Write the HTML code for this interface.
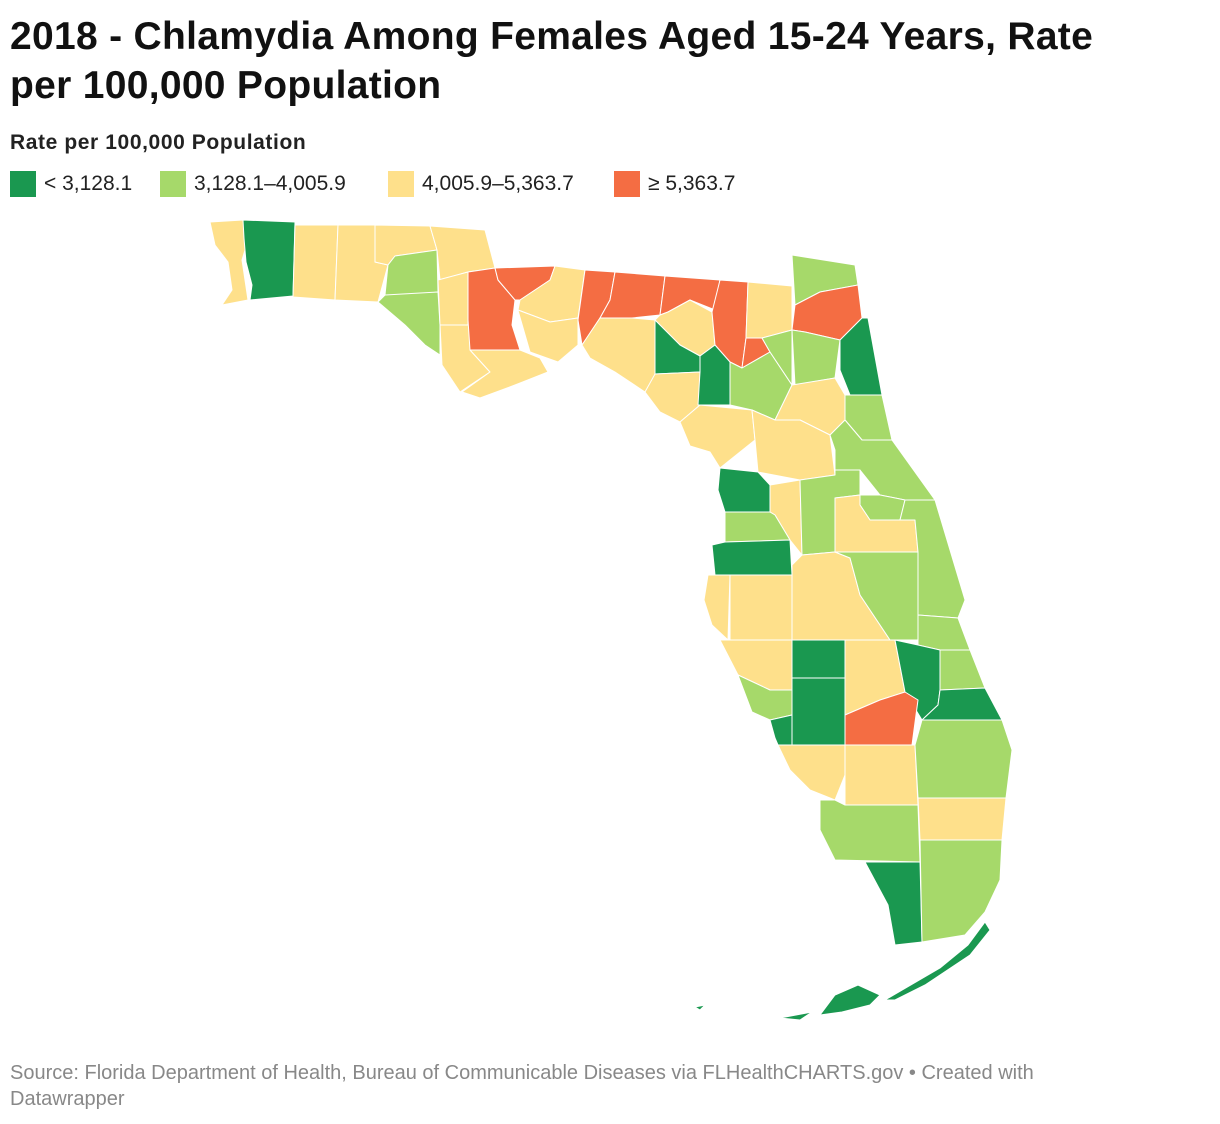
<!DOCTYPE html>
<html><head><meta charset="utf-8"><style>
body{margin:0;background:#fff;font-family:"Liberation Sans",sans-serif;width:1220px;height:1124px;overflow:hidden;position:relative}
h1{position:absolute;left:10px;top:12px;margin:0;font-size:39px;line-height:49px;font-weight:bold;color:#111;width:1140px;letter-spacing:0.3px}
.sub{position:absolute;left:10px;top:131px;font-size:21px;font-weight:bold;color:#222;letter-spacing:0.6px}
.leg{position:absolute;top:171px;font-size:21px;color:#222;display:flex;align-items:center}
.sw{width:26px;height:26px;margin-right:8px;display:inline-block}
.foot{position:absolute;left:10px;top:1060px;font-size:20px;line-height:26px;color:#888;width:1120px}
</style></head><body>
<h1>2018 - Chlamydia Among Females Aged 15-24 Years, Rate per 100,000 Population</h1>
<div class="sub">Rate per 100,000 Population</div>
<div class="leg" style="left:10px"><span class="sw" style="background:#1a9850"></span>&lt; 3,128.1</div>
<div class="leg" style="left:160px"><span class="sw" style="background:#a6d96a"></span>3,128.1–4,005.9</div>
<div class="leg" style="left:388px"><span class="sw" style="background:#fee08b"></span>4,005.9–5,363.7</div>
<div class="leg" style="left:614px"><span class="sw" style="background:#f46d43"></span>≥ 5,363.7</div>
<svg id="map" width="1220" height="1124" style="position:absolute;left:0;top:0"></svg>
<div class="foot">Source: Florida Department of Health, Bureau of Communicable Diseases via FLHealthCHARTS.gov • Created with Datawrapper</div>
<script>
const thresholds=[3128.1,4005.9,5363.7];
const colors=["#1a9850","#a6d96a","#fee08b","#f46d43"];
const counties=["Escambia","Santa Rosa","Okaloosa","Walton","Holmes","Washington","Jackson","Bay","Calhoun","Gulf","Liberty","Gadsden","Franklin","Leon","Wakulla","Jefferson","Madison","Taylor","Hamilton","Suwannee","Lafayette","Dixie","Columbia","Baker","Union","Gilchrist","Alachua","Bradford","Nassau","Duval","Clay","St. Johns","Putnam","Flagler","Levy","Marion","Volusia","Citrus","Sumter","Lake","Seminole","Hernando","Pasco","Orange","Brevard","Pinellas","Hillsborough","Polk","Osceola","Indian River","Manatee","Hardee","Highlands","Okeechobee","St. Lucie","Sarasota","DeSoto","Charlotte","Glades","Martin","Lee","Hendry","Palm Beach","Collier","Broward","Monroe","Miami-Dade","Monroe Keys"];
const rates=[4600,2700,4300,4200,4500,3600,4700,3700,4400,4300,5600,6200,4500,4800,4400,5900,5800,4500,5700,4600,2800,4400,5500,4700,6000,2600,3800,3700,3500,5500,3600,2900,4900,3700,4500,4600,3800,2900,4300,3700,3900,3500,3000,4900,3600,4500,4800,4700,3800,3700,4600,2800,4600,2700,3900,3700,2600,2900,5700,2900,4400,4600,3800,3800,4700,2800,3800,2800];
const shapes={
"Escambia":"M210,222 L243,220 L248,240 L242,260 L248,300 L222,305 L232,290 L228,262 L215,245Z",
"Santa Rosa":"M243,220 L295,222 L293,296 L250,300 L252,285 L246,262 L244,238Z",
"Okaloosa":"M295,225 L338,225 L335,300 L293,297Z",
"Walton":"M338,225 L375,225 L375,262 L388,265 L378,302 L335,300Z",
"Holmes":"M375,225 L430,226 L437,250 L395,256 L388,265 L375,262Z",
"Washington":"M395,256 L437,250 L438,292 L415,295 L385,295 L388,265Z",
"Jackson":"M430,226 L485,230 L495,268 L468,272 L440,280 L437,250Z",
"Bay":"M378,302 L385,295 L438,292 L440,325 L440,355 L425,345 L405,325Z",
"Calhoun":"M438,280 L468,272 L468,325 L440,325Z",
"Gulf":"M440,325 L470,325 L470,350 L490,372 L460,392 L442,365Z",
"Liberty":"M468,272 L495,268 L498,280 L515,300 L512,325 L520,350 L470,350 L468,320Z",
"Gadsden":"M495,268 L555,266 L550,280 L520,300 L515,300 L498,280Z",
"Franklin":"M470,350 L520,350 L540,358 L548,372 L515,385 L480,398 L462,392 L490,372Z",
"Leon":"M520,300 L550,280 L555,266 L585,270 L578,318 L550,322 L518,310Z",
"Wakulla":"M518,310 L550,322 L578,318 L578,345 L558,362 L530,352 L515,300Z",
"Jefferson":"M585,270 L615,272 L610,300 L600,318 L582,345 L578,320Z",
"Madison":"M615,272 L665,276 L660,315 L632,318 L600,318 L610,300Z",
"Taylor":"M582,345 L600,318 L632,318 L655,320 L655,375 L645,392 L615,372 L590,358Z",
"Hamilton":"M665,276 L720,280 L715,310 L690,300 L668,312 L660,315Z",
"Suwannee":"M660,315 L668,312 L690,300 L712,312 L715,345 L700,356 L680,345 L655,320Z",
"Lafayette":"M655,320 L680,345 L700,356 L700,372 L655,374Z",
"Dixie":"M645,392 L655,374 L700,372 L700,405 L680,422 L660,412Z",
"Columbia":"M720,280 L748,282 L746,338 L742,368 L730,362 L715,345 L712,312Z",
"Baker":"M748,282 L792,286 L792,330 L762,338 L746,338Z",
"Union":"M746,338 L762,338 L770,352 L742,368Z",
"Gilchrist":"M700,356 L715,345 L730,362 L730,405 L698,405 L700,372Z",
"Alachua":"M730,362 L742,368 L770,352 L792,385 L775,420 L752,410 L730,405Z",
"Bradford":"M762,338 L792,330 L792,385 L770,352Z",
"Nassau":"M792,255 L855,265 L858,285 L820,292 L795,305Z",
"Duval":"M795,305 L820,292 L858,285 L862,318 L840,340 L805,332 L792,330Z",
"Clay":"M792,330 L805,332 L840,340 L835,378 L795,385Z",
"St. Johns":"M840,340 L862,318 L868,318 L882,395 L850,395 L840,370Z",
"Putnam":"M792,385 L835,378 L845,395 L845,420 L830,435 L800,420 L775,420Z",
"Flagler":"M850,395 L882,395 L892,440 L862,440 L845,420 L845,395Z",
"Levy":"M680,422 L700,405 L752,410 L755,440 L720,468 L710,452 L690,446Z",
"Marion":"M752,410 L775,420 L800,420 L830,435 L835,475 L800,480 L758,472 L755,440Z",
"Volusia":"M845,420 L862,440 L892,440 L935,500 L905,500 L880,495 L860,470 L835,470 L835,450 L830,435Z",
"Citrus":"M720,468 L758,472 L770,485 L770,512 L725,512 L718,490Z",
"Sumter":"M770,485 L800,480 L802,555 L790,540 L775,515 L770,512Z",
"Lake":"M800,480 L835,475 L835,470 L860,470 L860,495 L835,498 L835,552 L802,555Z",
"Seminole":"M860,495 L880,495 L905,500 L900,520 L870,520 L860,505Z",
"Hernando":"M725,512 L770,512 L775,515 L790,540 L725,542Z",
"Pasco":"M712,545 L725,542 L790,540 L792,575 L715,575Z",
"Orange":"M835,498 L860,495 L860,505 L870,520 L900,520 L915,520 L918,552 L835,552Z",
"Brevard":"M905,500 L935,500 L965,600 L958,618 L918,615 L918,552 L915,520 L900,520Z",
"Pinellas":"M708,575 L730,575 L728,640 L712,625 L704,600Z",
"Hillsborough":"M730,575 L792,575 L792,640 L730,640Z",
"Polk":"M792,575 L792,565 L802,555 L835,552 L850,558 L860,595 L890,640 L792,640Z",
"Osceola":"M835,552 L918,552 L918,640 L890,640 L860,595 L850,558Z",
"Indian River":"M918,615 L958,618 L970,650 L940,650 L918,645Z",
"Manatee":"M720,640 L792,640 L792,690 L770,690 L738,675Z",
"Hardee":"M792,640 L845,640 L845,678 L792,678Z",
"Highlands":"M845,640 L895,640 L905,692 L880,700 L845,715Z",
"Okeechobee":"M895,640 L918,645 L940,650 L940,690 L938,705 L922,720 L905,692Z",
"St. Lucie":"M940,650 L970,650 L985,688 L940,690Z",
"Sarasota":"M738,675 L770,690 L792,690 L792,715 L770,720 L752,712Z",
"DeSoto":"M792,678 L845,678 L845,745 L792,745 L792,715Z",
"Charlotte":"M770,720 L792,715 L792,745 L778,745 L775,738Z",
"Glades":"M845,715 L880,700 L905,692 L918,700 L912,745 L845,745Z",
"Martin":"M922,720 L938,705 L940,690 L985,688 L1002,720Z",
"Lee":"M778,745 L845,745 L845,775 L835,800 L810,790 L790,770Z",
"Hendry":"M845,745 L915,745 L918,805 L845,805 L845,775Z",
"Palm Beach":"M915,745 L922,720 L1002,720 L1012,750 L1006,798 L918,798Z",
"Collier":"M820,800 L835,800 L845,805 L918,805 L920,862 L835,860 L820,830Z",
"Broward":"M918,798 L1006,798 L1002,840 L920,840Z",
"Monroe":"M865,862 L920,862 L922,942 L895,945 L888,905Z",
"Miami-Dade":"M920,840 L1002,840 L1000,880 L985,912 L965,935 L922,942Z",
"Monroe Keys":"M820,1015 L835,995 L858,985 L880,995 L870,1005 L842,1012Z M885,1000 L940,968 L968,945 L985,922 L990,930 L970,955 L925,985 L895,1000Z M780,1018 L812,1012 L800,1020Z M695,1007 L705,1005 L700,1010Z"
};
const NS="http://www.w3.org/2000/svg";
const svg=document.getElementById('map');
function colorScale(v){let i=0;while(i<thresholds.length&&v>=thresholds[i])i++;return colors[i];}
counties.forEach((c,i)=>{
  const p=document.createElementNS(NS,'path');
  p.setAttribute('d',shapes[c]);
  p.setAttribute('fill',colorScale(rates[i]));
  p.setAttribute('stroke','#fff');
  p.setAttribute('stroke-width','1');
  p.setAttribute('stroke-linejoin','round');
  
  
  svg.appendChild(p);
});
</script>
</body></html>
